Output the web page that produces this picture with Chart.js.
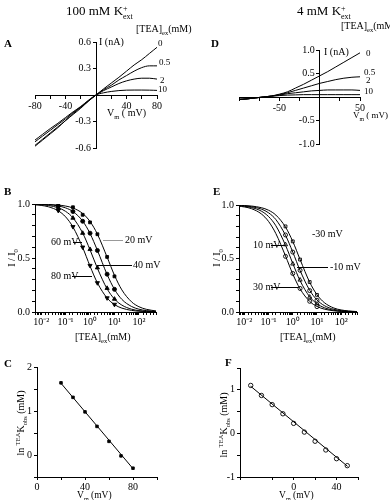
<!DOCTYPE html>
<html><head><meta charset="utf-8">
<script src="https://cdn.jsdelivr.net/npm/chart.js@4"></script>
<style>
html,body{margin:0;padding:0;background:#fff;}
body{width:390px;height:500px;position:relative;overflow:hidden;font-family:"Liberation Serif","Times New Roman",serif;color:#000;}
canvas{position:absolute;}
.t{position:absolute;white-space:nowrap;font-size:10px;line-height:10px;}
.t sub,.t sup{font-size:65%;line-height:0;}
.b{font-weight:bold;font-size:11px;}
.r{transform:translate(-50%,-50%) rotate(-90deg);}
.st{display:inline-block;vertical-align:-4px;font-size:8px;line-height:8px;}
.st span{display:block;}
.hl{position:absolute;height:1px;background:#000;}
</style></head>
<body>
<canvas id="cA" width="195" height="160" style="left:0;top:0"></canvas>
<canvas id="cD" width="195" height="160" style="left:195px;top:0"></canvas>
<canvas id="cB" width="195" height="150" style="left:0;top:180px"></canvas>
<canvas id="cE" width="195" height="150" style="left:195px;top:180px"></canvas>
<canvas id="cC" width="195" height="160" style="left:0;top:340px"></canvas>
<canvas id="cF" width="195" height="160" style="left:195px;top:340px"></canvas>

<!-- Panel A texts -->
<div class="t" style="left:66px;top:4px;font-size:13px;line-height:13px">100 mM K<span class="st"><span>+</span><span>ext</span></span></div>
<div class="t b" style="left:4px;top:38px">A</div>
<div class="t" style="left:136px;top:24px">[TEA]<sub>ex</sub>(mM)</div>
<div class="t" style="left:99px;top:37px">I (nA)</div>
<div class="t" style="left:158px;top:38px;font-size:9px">0</div>
<div class="t" style="left:159px;top:57px;font-size:9px">0.5</div>
<div class="t" style="left:160px;top:75px;font-size:9px">2</div>
<div class="t" style="left:158px;top:84px;font-size:9px">10</div>
<div class="t" style="left:107px;top:108px">V<sub>m</sub> ( mV)</div>

<!-- Panel D texts -->
<div class="t" style="left:297px;top:4px;font-size:13px;line-height:13px">4 mM K<span class="st"><span>+</span><span>ext</span></span></div>
<div class="t b" style="left:211px;top:38px">D</div>
<div class="t" style="left:341px;top:21px">[TEA]<sub>ex</sub>(mM)</div>
<div class="t" style="left:324px;top:47px">I (nA)</div>
<div class="t" style="left:366px;top:48px;font-size:9px">0</div>
<div class="t" style="left:364px;top:67px;font-size:9px">0.5</div>
<div class="t" style="left:366px;top:75px;font-size:9px">2</div>
<div class="t" style="left:364px;top:86px;font-size:9px">10</div>
<div class="t" style="left:353px;top:110px;font-size:9px">V<sub>m</sub> ( mV)</div>

<!-- Panel B texts -->
<div class="t b" style="left:4px;top:186px">B</div>
<div class="t r" style="left:12px;top:258px">I / I<sub>0</sub></div>
<div class="t" style="left:51px;top:237px">60 mV</div>
<div class="hl" style="left:73px;top:242px;width:9px"></div>
<div class="t" style="left:125px;top:235px">20 mV</div>
<div class="hl" style="left:103px;top:240px;width:20px;background:#999"></div>
<div class="t" style="left:133px;top:260px">40 mV</div>
<div class="hl" style="left:97px;top:265px;width:35px"></div>
<div class="t" style="left:51px;top:271px">80 mV</div>
<div class="hl" style="left:72px;top:276px;width:20px"></div>
<div class="t" style="left:75px;top:332px">[TEA]<sub>ex</sub>(mM)</div>

<!-- Panel E texts -->
<div class="t b" style="left:213px;top:186px">E</div>
<div class="t r" style="left:217px;top:258px">I / I<sub>0</sub></div>
<div class="t" style="left:312px;top:229px">-30 mV</div>
<div class="t" style="left:253px;top:240px">10 mV</div>
<div class="hl" style="left:271px;top:245px;width:14px"></div>
<div class="t" style="left:330px;top:262px">-10 mV</div>
<div class="hl" style="left:297px;top:267px;width:31px"></div>
<div class="t" style="left:253px;top:282px">30 mV</div>
<div class="hl" style="left:271px;top:287px;width:27px"></div>
<div class="t" style="left:280px;top:332px">[TEA]<sub>ex</sub>(mM)</div>

<!-- Panel C texts -->
<div class="t b" style="left:4px;top:358px">C</div>
<div class="t r" style="left:21px;top:423px">ln <sup>TEA</sup>K<sub>obs</sub> (mM)</div>
<div class="t" style="left:77px;top:490px;font-size:9.5px">V<sub>m</sub> (mV)</div>

<!-- Panel F texts -->
<div class="t b" style="left:225px;top:357px">F</div>
<div class="t r" style="left:224px;top:425px">ln <sup>TEA</sup>K<sub>obs</sub> (mM)</div>
<div class="t" style="left:279px;top:490px;font-size:9.5px">V<sub>m</sub> (mV)</div>

<script>
// ---------- DATA ----------
// Panel A: I-V at 100 mM K+ext, [TEA]ex = 0, 0.5, 2, 10 mM
const V_A = [-80,-70,-60,-50,-40,-30,-20,-10,0,10,20,30,40,50,60,70,80];
const I_A_0   = [-0.58,-0.51,-0.44,-0.37,-0.29,-0.22,-0.15,-0.07,0,0.07,0.135,0.20,0.27,0.34,0.40,0.47,0.54];
const I_A_05  = [-0.57,-0.50,-0.43,-0.36,-0.29,-0.21,-0.14,-0.07,0,0.06,0.11,0.17,0.22,0.27,0.31,0.33,0.33];
const I_A_2   = [-0.53,-0.465,-0.40,-0.335,-0.27,-0.20,-0.135,-0.065,0,0.05,0.09,0.13,0.16,0.18,0.19,0.19,0.18];
const I_A_10  = [-0.51,-0.445,-0.38,-0.32,-0.255,-0.19,-0.13,-0.06,0,0.025,0.04,0.05,0.055,0.056,0.056,0.055,0.052];

// Panel D: I-V at 4 mM K+ext
const V_D = [-100,-90,-80,-70,-60,-50,-40,-30,-20,-10,0,10,20,30,40,50];
const I_D_0   = [-0.05,-0.04,-0.02,0.0,0.02,0.06,0.11,0.19,0.27,0.36,0.45,0.54,0.64,0.74,0.84,0.94];
const I_D_05  = [-0.05,-0.04,-0.02,0.0,0.02,0.05,0.09,0.14,0.19,0.24,0.29,0.33,0.37,0.40,0.42,0.43];
const I_D_2   = [-0.05,-0.04,-0.02,0.0,0.02,0.04,0.07,0.09,0.11,0.13,0.14,0.15,0.15,0.15,0.15,0.14];
const I_D_10  = [-0.05,-0.04,-0.02,0.0,0.015,0.03,0.04,0.045,0.05,0.05,0.05,0.05,0.05,0.05,0.05,0.05];

// Panel B: dose-response, 100 mM K+ext (fitted curves and measured points)
const CONC_B = [0.0056,0.01,0.02,0.05,0.1,0.2,0.5,1,2,5,10,20,50,100,200,500];
const FIT_B_20 = [0.999,0.998,0.996,0.990,0.981,0.963,0.912,0.838,0.721,0.508,0.340,0.205,0.094,0.049,0.025,0.010];
const FIT_B_40 = [0.998,0.996,0.993,0.982,0.964,0.930,0.842,0.727,0.571,0.347,0.210,0.117,0.051,0.026,0.013,0.005];
const FIT_B_60 = [0.996,0.993,0.986,0.965,0.932,0.872,0.731,0.576,0.405,0.214,0.120,0.064,0.026,0.013,0.007,0.003];
const FIT_B_80 = [0.992,0.987,0.974,0.937,0.881,0.787,0.597,0.425,0.270,0.129,0.069,0.036,0.015,0.007,0.004,0.001];
const PT_CONC_B = [0.05,0.2,0.5,1,2,5,10];
const PT_B_20 = [0.99,0.97,0.90,0.83,0.72,0.51,0.33];
const PT_B_40 = [0.98,0.93,0.84,0.73,0.57,0.35,0.21];
const PT_B_60 = [0.96,0.87,0.73,0.58,0.41,0.22,0.12];
const PT_B_80 = [0.94,0.79,0.60,0.43,0.27,0.13,0.07];

// Panel E: dose-response, 4 mM K+ext
const CONC_E = [0.006,0.01,0.02,0.05,0.1,0.2,0.5,1,2,5,10,20,50,100,200,450];
const FIT_E_M30 = [0.997,0.995,0.990,0.975,0.951,0.906,0.794,0.659,0.491,0.278,0.162,0.088,0.037,0.019,0.010,0.004];
const FIT_E_M10 = [0.995,0.992,0.984,0.962,0.927,0.864,0.717,0.560,0.388,0.203,0.113,0.060,0.025,0.013,0.006,0.003];
const FIT_E_10  = [0.993,0.988,0.976,0.943,0.892,0.806,0.624,0.454,0.293,0.142,0.077,0.040,0.016,0.008,0.004,0.002];
const FIT_E_30  = [0.989,0.982,0.965,0.917,0.846,0.733,0.524,0.355,0.216,0.099,0.052,0.027,0.011,0.005,0.003,0.001];
const PT_CONC_E = [0.5,1,2,5,10];
const PT_E_M30 = [0.80,0.66,0.49,0.28,0.16];
const PT_E_M10 = [0.72,0.56,0.39,0.20,0.11];
const PT_E_10  = [0.63,0.45,0.30,0.14,0.08];
const PT_E_30  = [0.52,0.36,0.22,0.10,0.05];

// Panel C: ln Kobs vs Vm (100 mM K+ext)
const V_C = [20,30,40,50,60,70,80];
const LNK_C = [1.64,1.31,0.98,0.65,0.31,-0.02,-0.30];
const FITV_C = [20,80];
const FITK_C = [1.63,-0.31];

// Panel F: ln Kobs vs Vm (4 mM K+ext)
const V_F = [-40,-30,-20,-10,0,10,20,30,40,50];
const LNK_F = [1.10,0.87,0.66,0.45,0.23,0.03,-0.18,-0.38,-0.58,-0.74];
const FITV_F = [-40,50];
const FITK_F = [1.08,-0.75];

// Tick labels
const TICKS_A_X = [-80,-40,40,80];
const TICKS_A_Y = [-0.6,-0.3,0.3,0.6];
const TICKS_D_X = [-50,50];
const TICKS_D_Y = [-1.0,-0.5,0.5,1.0];
const LOG_TICK_VALUES = [0.01,0.1,1,10,100];
const LOG_TICK_LABELS = ['10\u207B\u00B2','10\u207B\u00B9','10\u2070','10\u00B9','10\u00B2'];
const TICKS_BE_Y = [0,0.5,1];
const TICKS_C_X = [0,40,80];
const TICKS_C_Y = [0,1,2];
const TICKS_F_X = [-40,0,40];
const TICKS_F_Y = [-1,0,1];

// ---------- CHARTS ----------
Chart.defaults.font.family = "'Liberation Serif','Times New Roman',serif";
Chart.defaults.font.size = 10;
Chart.defaults.color = '#000';
Chart.defaults.animation = false;

const near = (a,b)=>Math.abs(a-b)<1e-6;
function pts(xs, ys){ return xs.map((x,i)=>({x:x, y:ys[i]})); }
function curve(xs, ys){ return {data:pts(xs,ys), borderColor:'#000', borderWidth:1, pointRadius:0, fill:false, cubicInterpolationMode:'monotone', showLine:true}; }
function straight(xs, ys){ return {data:pts(xs,ys), borderColor:'#000', borderWidth:1, pointRadius:0, fill:false, tension:0, showLine:true}; }
function marks(xs, ys, style, filled, rot, r){ return {data:pts(xs,ys), showLine:false, pointStyle:style, pointRotation:rot||0, pointRadius:r||2.2, borderColor:'#000', borderWidth:0.9, backgroundColor: filled?'#000':'#fff'}; }

function fmt1(v){ return (Math.abs(v)<1e-9?0:v).toFixed(1); }
// centre-crossing y axes draw labels flush against the axis line; trailing spaces give the gap seen in the figure
function fmt1gap(v){ return fmt1(v) + '  '; }
function listLabel(list, f){ return function(v){ for (const t of list){ if (near(v,t)) return f?f(t):String(t); } return ''; }; }

function axis(extra, ticks){
  return Object.assign({
    grid:{display:true, drawOnChartArea:false, drawTicks:true, tickLength:3, color:'#000', lineWidth:1},
    border:{display:true, color:'#000', width:1},
    ticks:Object.assign({color:'#000', padding:2, autoSkip:false, maxRotation:0, minRotation:0, font:{size:10}}, ticks)
  }, extra);
}

function make(id, datasets, scales, padding){
  return new Chart(document.getElementById(id), {
    type:'line',
    data:{datasets:datasets},
    options:{
      responsive:false, animation:false, parsing:true, normalized:true,
      layout:{padding:padding},
      plugins:{legend:{display:false}, tooltip:{enabled:false}},
      elements:{line:{borderCapStyle:'round'}},
      scales:scales
    }
  });
}

// A
make('cA', [curve(V_A,I_A_0), curve(V_A,I_A_05), curve(V_A,I_A_2), curve(V_A,I_A_10)], {
  x: axis({type:'linear', min:-80, max:80, position:{y:0}}, {stepSize:20, callback:listLabel(TICKS_A_X)}),
  y: axis({type:'linear', min:-0.6, max:0.6, position:{x:0}}, {stepSize:0.3, callback:listLabel(TICKS_A_Y, fmt1gap)})
}, {left:35, right:38, top:42, bottom:12});

// D
make('cD', [curve(V_D,I_D_0), curve(V_D,I_D_05), curve(V_D,I_D_2), curve(V_D,I_D_10)], {
  x: axis({type:'linear', min:-100, max:50, position:{y:0}}, {stepSize:25, callback:listLabel(TICKS_D_X)}),
  y: axis({type:'linear', min:-1, max:1, position:{x:0}}, {stepSize:0.5, callback:listLabel(TICKS_D_Y, fmt1gap)})
}, {left:44, right:30, top:50, bottom:16});

function logLabel(v){ for (let i=0;i<LOG_TICK_VALUES.length;i++){ if (Math.abs(Math.log10(v)-Math.log10(LOG_TICK_VALUES[i]))<1e-6) return LOG_TICK_LABELS[i]; } return ''; }

// B
make('cB', [
  curve(CONC_B,FIT_B_20), curve(CONC_B,FIT_B_40), curve(CONC_B,FIT_B_60), curve(CONC_B,FIT_B_80),
  marks(PT_CONC_B,PT_B_20,'rect',true,0,2), marks(PT_CONC_B,PT_B_40,'circle',true,0,2),
  marks(PT_CONC_B,PT_B_60,'triangle',true,0,2.4), marks(PT_CONC_B,PT_B_80,'triangle',true,180,2.4)
], {
  x: axis({type:'logarithmic', min:0.0056, max:500, position:'bottom', afterFit:s=>{s.height=14;}}, {callback:logLabel, padding:1}),
  y: axis({type:'linear', min:0, max:1, position:'left', afterFit:s=>{s.width=22;}}, {stepSize:0.1, callback:listLabel(TICKS_BE_Y, fmt1)})
}, {left:13, right:39, top:24, bottom:4});

// E
make('cE', [
  curve(CONC_E,FIT_E_M30), curve(CONC_E,FIT_E_M10), curve(CONC_E,FIT_E_10), curve(CONC_E,FIT_E_30),
  marks(PT_CONC_E,PT_E_M30,'rect',false,0,2), marks(PT_CONC_E,PT_E_M10,'circle',false,0,2),
  marks(PT_CONC_E,PT_E_10,'triangle',false,0,2.4), marks(PT_CONC_E,PT_E_30,'circle',false,0,2)
], {
  x: axis({type:'logarithmic', min:0.006, max:450, position:'bottom', afterFit:s=>{s.height=14;}}, {callback:logLabel, padding:1}),
  y: axis({type:'linear', min:0, max:1, position:'left', afterFit:s=>{s.width=22;}}, {stepSize:0.1, callback:listLabel(TICKS_BE_Y, fmt1)})
}, {left:22, right:33, top:25, bottom:4});

// C
make('cC', [ straight(FITV_C,FITK_C), marks(V_C,LNK_C,'rect',true,0,1.8) ], {
  x: axis({type:'linear', min:0, max:100, position:'bottom', afterFit:s=>{s.height=14;}}, {stepSize:20, callback:listLabel(TICKS_C_X), padding:1}),
  y: axis({type:'linear', min:-0.5, max:2, position:'left', afterFit:s=>{s.width=20;}}, {stepSize:0.5, callback:listLabel(TICKS_C_Y)})
}, {left:17, right:38, top:27, bottom:9});

// F
make('cF', [ straight(FITV_F,FITK_F), marks(V_F,LNK_F,'circle',false,0,2.2) ], {
  x: axis({type:'linear', min:-50, max:60, position:'bottom', afterFit:s=>{s.height=14;}}, {stepSize:20, callback:listLabel(TICKS_F_X), padding:1}),
  y: axis({type:'linear', min:-1, max:1.5, position:'left', afterFit:s=>{s.width=20;}}, {stepSize:0.5, callback:listLabel(TICKS_F_Y)})
}, {left:25, right:32, top:28, bottom:9});
</script>
</body></html>
